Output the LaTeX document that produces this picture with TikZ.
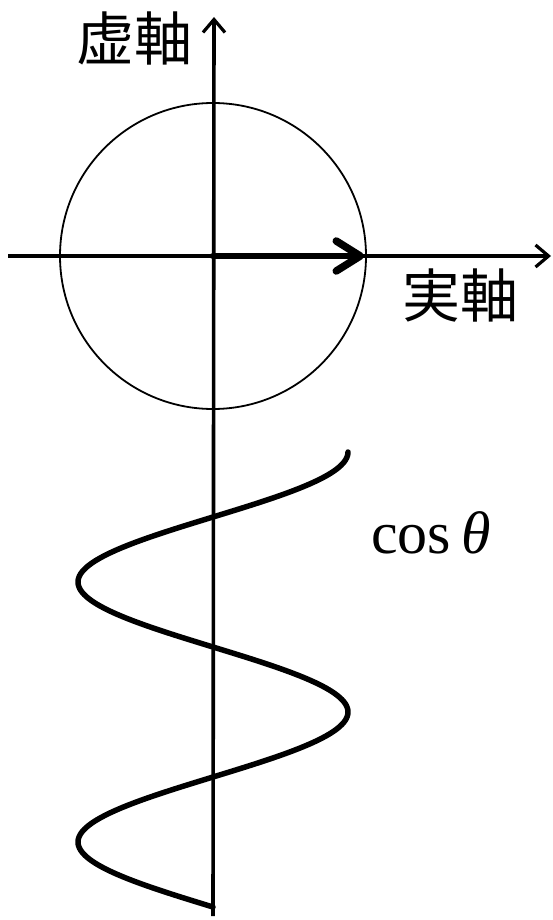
\documentclass[tikz,border=0pt]{standalone}
\usepackage{fontspec}
\setmainfont{Liberation Serif}
\newfontfamily\cjk{Noto Sans CJK JP}
\usetikzlibrary{arrows.meta}
\begin{document}
\begin{tikzpicture}[x=1pt,y=-1pt,
  axis/.style={line width=3.6pt,-{Straight Barb[length=13pt,width=22pt,line width=3.2pt]}},
  vec/.style={line width=6.5pt,line cap=round,-{Straight Barb[length=24pt,width=30pt,line width=7.5pt,round]}},
  lbl/.style={font=\cjk\fontsize{58}{62}\selectfont,inner sep=0pt},
  wave/.style={line width=5.5pt,line cap=round}]
\useasboundingbox (0,0) rectangle (552,920);
\coordinate (O) at (213,256);
\coordinate (ybot) at (213,916);
\coordinate (ytop) at (214,17);
\coordinate (xl) at (8,256);
\coordinate (xr) at (551,256);
\coordinate (vend) at (364,256);
\draw[line width=1.8pt] (O) circle[radius=153];
\draw[axis] (xl) -- (xr);
\draw[axis] (ybot) -- (ytop);
\draw[vec] (O) -- (vend);
\draw[wave] plot[domain=0:630,samples=240,smooth,variable=\t] ({213+135*cos(\t)},{452+\t/360*260});
\node[lbl] (im) at (134,38) {虚軸};
\node[lbl] (re) at (460,296) {実軸};
\node[font=\fontsize{60}{64}\selectfont,inner sep=0pt,anchor=base west] (cos) at (371,553) {cos\,\textit{θ}};
\end{tikzpicture}
\end{document}
